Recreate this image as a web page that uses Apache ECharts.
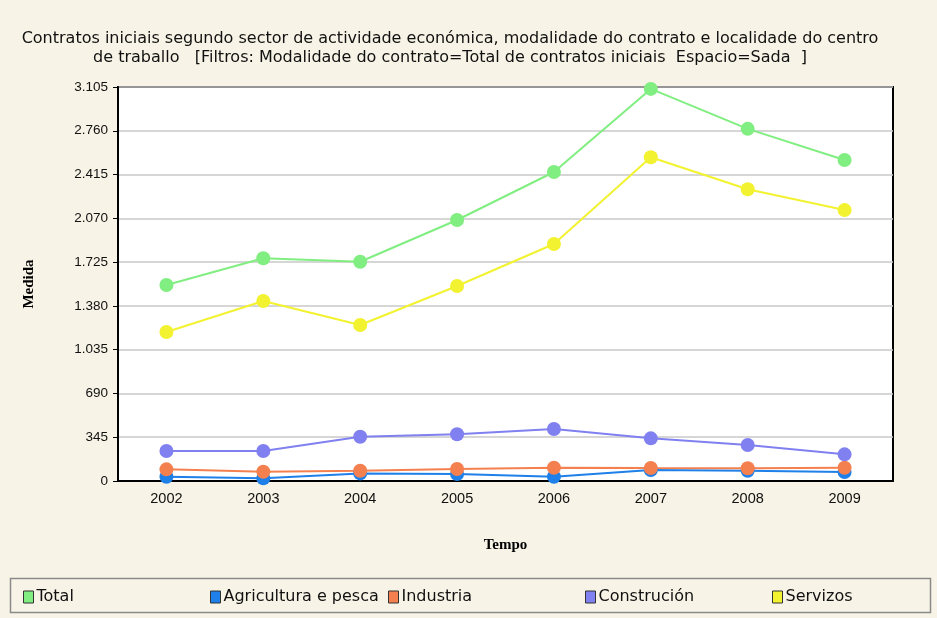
<!DOCTYPE html>
<html><head><meta charset="utf-8">
<script src="https://cdn.jsdelivr.net/npm/echarts@6/dist/echarts.min.js"></script>
<style>html,body{margin:0;padding:0;background:#f7f3e6;}#c{width:937px;height:618px;}</style>
</head><body><div id="c"></div>
<script>
const categories = ['2002','2003','2004','2005','2006','2007','2008','2009'];
const total = [1545, 1755, 1728, 2057, 2435, 3090, 2775, 2530];
const agricultura = [34, 21, 60, 55, 34, 87, 81, 71];
const industria = [92, 73, 81, 95, 105, 102, 100, 105];
const construcion = [236, 236, 349, 368, 410, 336, 284, 210];
const servizos = [1174, 1418, 1229, 1537, 1868, 2551, 2299, 2135];
const seriesNames = ['Total', 'Agricultura e pesca', 'Industria', 'Construción', 'Servizos'];
const colors = ['#80ee80', '#1e80e8', '#f48050', '#8080f0', '#f2f230'];
const yMax = 3105, yStep = 345;

const chart = echarts.init(document.getElementById('c'));
const dataArr = [total, agricultura, industria, construcion, servizos];
const legendLefts = [18, 205, 383, 580, 767];
const font = 'Liberation Sans, Arial, sans-serif';
const wide = 'DejaVu Sans, sans-serif';
chart.setOption({
  backgroundColor: '#f7f3e6',
  animation: false,
  title: {
    text: 'Contratos iniciais segundo sector de actividade económica, modalidade do contrato e localidade do centro\nde traballo   [Filtros: Modalidade do contrato=Total de contratos iniciais  Espacio=Sada  ]',
    left: 445, top: 24, textAlign: 'center',
    textStyle: {fontFamily: wide, fontSize: 16, fontWeight: 'normal', color: '#111', lineHeight: 19}
  },
  grid: {left: 118, right: 44, top: 87, bottom: 137, show: true, backgroundColor: '#fff', borderColor: '#000', borderWidth: 2},
  xAxis: {
    type: 'category', data: categories, boundaryGap: true,
    name: 'Tempo', nameLocation: 'middle', nameGap: 57,
    nameTextStyle: {fontFamily: 'Liberation Serif, DejaVu Serif, serif', fontWeight: 'bold', fontSize: 15, color: '#000'},
    axisLine: {lineStyle: {color: '#000', width: 2}},
    axisTick: {alignWithLabel: true, length: 5, lineStyle: {color: '#000'}},
    axisLabel: {fontFamily: font, fontSize: 14.5, color: '#111', margin: 10}
  },
  yAxis: {
    type: 'value', min: 0, max: yMax, interval: yStep,
    name: 'Medida', nameLocation: 'middle', nameGap: 81, nameRotate: 90,
    nameTextStyle: {fontFamily: 'Liberation Serif, DejaVu Serif, serif', fontWeight: 'bold', fontSize: 15, color: '#000'},
    axisLine: {show: true, lineStyle: {color: '#000', width: 2}},
    axisTick: {show: true, length: 5, lineStyle: {color: '#000'}},
    axisLabel: {fontFamily: font, fontSize: 13.5, color: '#111', margin: 10,
      formatter: v => String(v).replace(/\B(?=(\d{3})+(?!\d))/g, '.')},
    splitLine: {lineStyle: {color: '#c8c8c8', width: 1.5}}
  },
  legend: seriesNames.map((n, i) => ({
    data: [n], left: legendLefts[i], top: 584, icon: 'rect', itemWidth: 10, itemHeight: 12, itemGap: 4,
    itemStyle: {borderColor: '#333', borderWidth: 1},
    textStyle: {fontFamily: wide, fontSize: 16, color: '#111', padding: [0, 0, 0, -2]}
  })),
  graphic: [{type: 'rect', shape: {x: 10.5, y: 578.5, width: 920, height: 34}, style: {fill: 'none', stroke: '#8a8a8a', lineWidth: 1.5}, silent: true}],
  series: seriesNames.map((n, i) => ({
    name: n, type: 'line', data: dataArr[i], symbol: 'circle', symbolSize: 14,
    itemStyle: {color: colors[i]}, lineStyle: {color: colors[i], width: 2}
  }))
});
</script></body></html>
